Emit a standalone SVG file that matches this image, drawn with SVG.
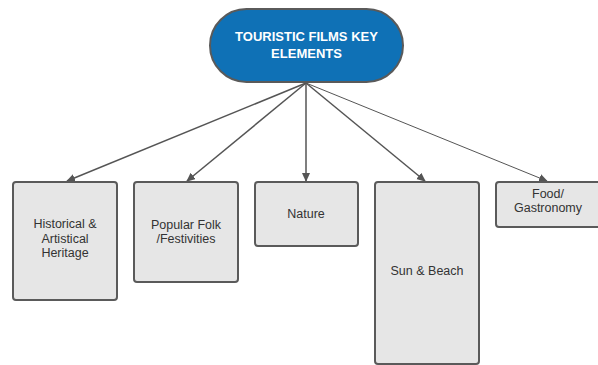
<svg xmlns="http://www.w3.org/2000/svg" width="598" height="365" viewBox="0 0 598 365">
<style>
.box{fill:#e6e6e6;stroke:#5a5a5a;stroke-width:2}
.lbl{font-family:"Liberation Sans",Arial,sans-serif;font-size:12.5px;fill:#333;text-anchor:middle}
.ttl{font-family:"Liberation Sans",Arial,sans-serif;font-size:13px;font-weight:bold;fill:#fff;text-anchor:middle}
.con{stroke:#555;stroke-width:1.5;fill:none}
</style>
<defs>
<marker id="ah" markerWidth="10" markerHeight="10" refX="8" refY="4" orient="auto" markerUnits="userSpaceOnUse">
<path d="M0,0 L9,4 L0,8 z" fill="#555"/>
</marker>
</defs>
<rect width="598" height="365" fill="#fff"/>
<g id="connectors">
<line class="con" x1="306" y1="83" x2="67" y2="181" marker-end="url(#ah)"/>
<line class="con" x1="306" y1="83" x2="187" y2="181" marker-end="url(#ah)"/>
<line class="con" x1="306" y1="83" x2="306" y2="181" marker-end="url(#ah)"/>
<line class="con" x1="306" y1="83" x2="425" y2="181" marker-end="url(#ah)"/>
<line class="con" style="stroke-width:1" x1="306" y1="83" x2="547" y2="181" marker-end="url(#ah)"/>
</g>
<g id="root">
<rect x="210" y="9" width="193" height="73" rx="36.5" fill="#0f71b6" stroke="#5a5a5a" stroke-width="2"/>
<text class="ttl" x="306.5" y="41">TOURISTIC FILMS KEY</text>
<text class="ttl" x="306.5" y="58">ELEMENTS</text>
</g>
<g id="historical">
<rect class="box" x="13" y="182" width="104" height="118" rx="3"/>
<text class="lbl" x="65" y="228">Historical &amp;</text>
<text class="lbl" x="65" y="243">Artistical</text>
<text class="lbl" x="65" y="257">Heritage</text>
</g>
<g id="popular">
<rect class="box" x="134" y="182" width="104" height="100" rx="3"/>
<text class="lbl" x="186" y="229">Popular Folk</text>
<text class="lbl" x="186" y="243">/Festivities</text>
</g>
<g id="nature">
<rect class="box" x="255" y="182" width="103" height="64" rx="3"/>
<text class="lbl" x="306" y="218">Nature</text>
</g>
<g id="sun">
<rect class="box" x="375" y="182" width="104" height="182" rx="3"/>
<text class="lbl" x="427" y="275">Sun &amp; Beach</text>
</g>
<g id="food">
<rect class="box" x="496" y="182" width="106" height="45" rx="3"/>
<text class="lbl" x="548" y="198">Food/</text>
<text class="lbl" x="548" y="212">Gastronomy</text>
</g>
</svg>
